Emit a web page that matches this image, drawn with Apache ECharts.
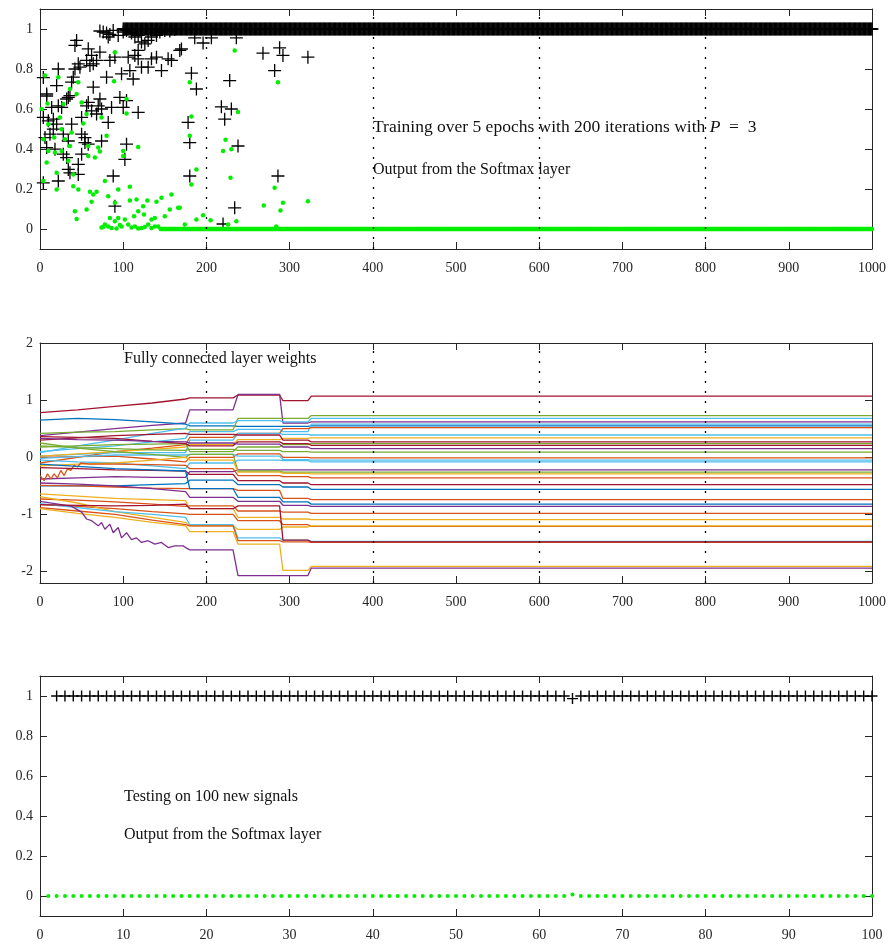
<!DOCTYPE html>
<html><head><meta charset="utf-8">
<script src="https://cdn.jsdelivr.net/npm/echarts@6/dist/echarts.min.js"></script>
<style>html,body{margin:0;padding:0;background:#fff}#c{width:889px;height:946px}</style>
</head><body><div id="c"></div>
<script>
// ---------- DATA ----------
// Panel 1: training, softmax outputs (iteration, value)
var trainBlackScatter = [[72,0.99],[76,0.985],[80,0.98],[84,0.973],[82,0.96],[88,0.993],[94,0.968],[100,0.985],[104,0.993],[110,0.98],[114,0.96],[118,0.968],[122,0.935],[126,0.926],[130,0.943],[134,0.96],[140,0.968],[144,0.985],[150,0.993],[156,0.99],[162,0.997],[168,0.893],[118,0.893],[44,0.943],[42,0.918],[58,0.901],[62,0.868],[72,0.884],[68,0.843],[64,0.826],[60,0.817],[46,0.826],[42,0.80],[22,0.80],[40,0.759],[48,0.809],[56,0.843],[84,0.843],[90,0.859],[80,0.759],[98,0.776],[108,0.792],[112,0.75],[106,0.859],[114,0.868],[118,0.851],[122,0.809],[130,0.809],[134,0.851],[140,0.859],[146,0.792],[154,0.851],[158,0.843],[20,0.717],[8,0.675],[38,0.734],[64,0.709],[34,0.658],[36,0.667],[32,0.65],[22,0.616],[14,0.608],[26,0.608],[58,0.633],[56,0.616],[70,0.616],[72,0.65],[62,0.591],[68,0.575],[74,0.60],[86,0.608],[96,0.658],[100,0.608],[104,0.642],[118,0.583],[82,0.533],[50,0.558],[38,0.524],[16,0.549],[10,0.541],[4,0.558],[6,0.457],[12,0.474],[20,0.524],[16,0.499],[28,0.474],[34,0.44],[50,0.474],[54,0.457],[54,0.432],[58,0.424],[74,0.44],[104,0.424],[8,0.407],[18,0.399],[28,0.374],[32,0.357],[50,0.374],[46,0.323],[102,0.348],[34,0.298],[36,0.281],[46,0.273],[88,0.265],[22,0.24],[4,0.231],[90,0.114],[4,0.757],[8,0.665],[182,0.779],[188,0.70],[178,0.533],[180,0.432],[180,0.265],[228,0.742],[218,0.611],[230,0.60],[222,0.549],[238,0.415],[234,0.106],[220,0.025],[268,0.879],[288,0.906],[292,0.868],[282,0.792],[322,0.859],[286,0.265],[170,0.90],[186,0.956],[196,0.93],[206,0.956],[236,0.956]];
var trainGreenScatter = [[6,0.767],[22,0.759],[46,0.734],[89,0.739],[90,0.884],[36,0.70],[44,0.675],[28,0.625],[50,0.633],[104,0.65],[104,0.578],[2,0.60],[9,0.628],[56,0.575],[52,0.528],[74,0.558],[10,0.524],[24,0.558],[26,0.499],[38,0.482],[4,0.449],[17,0.457],[30,0.449],[80,0.466],[70,0.407],[58,0.415],[36,0.415],[10,0.39],[18,0.382],[26,0.39],[66,0.357],[72,0.387],[118,0.41],[100,0.39],[100,0.365],[34,0.34],[8,0.332],[58,0.365],[20,0.281],[40,0.273],[78,0.24],[94,0.198],[108,0.211],[4,0.24],[20,0.198],[40,0.214],[46,0.198],[60,0.186],[68,0.186],[64,0.173],[82,0.164],[62,0.136],[90,0.131],[108,0.142],[116,0.147],[129,0.142],[140,0.136],[146,0.156],[158,0.173],[56,0.097],[42,0.089],[44,0.05],[74,0.008],[78,0.022],[84,0.055],[94,0.055],[102,0.047],[113,0.064],[125,0.072],[118,0.089],[124,0.114],[134,0.047],[138,0.055],[150,0.064],[156,0.097],[166,0.106],[90,0.039],[98,0.013],[106,0.022],[122,0.005],[130,0.022],[142,0.013],[82,0.013],[76,0.01],[86,0.005],[92,0.003],[96,0.02],[110,0.008],[114,0.012],[118,0.003],[126,0.01],[134,0.005],[138,0.012],[234,0.893],[180,0.734],[286,0.734],[182,0.563],[238,0.585],[180,0.466],[223,0.446],[220,0.39],[230,0.399],[188,0.298],[182,0.223],[229,0.256],[282,0.206],[292,0.131],[322,0.139],[269,0.117],[289,0.092],[168,0.106],[188,0.047],[196,0.069],[205,0.044],[236,0.039],[226,0.022],[174,0.022],[284,0.013]];
// converged outputs, one value per iteration from the start iteration onwards
var blackBandStart = 100;
var blackBand = [
1,1,1,1,1,1,1,1,1,1,1,1,1,1,1,1,1,1,1,1,1,1,1,1,1,1,1,1,1,1,1,1,1,1,1,1,1,1,1,1,1,1,1,1,1,1,1,1,1,1,
1,1,1,1,1,1,1,1,1,1,1,1,1,1,1,1,1,1,1,1,1,1,1,1,1,1,1,1,1,1,1,1,1,1,1,1,1,1,1,1,1,1,1,1,1,1,1,1,1,1,
1,1,1,1,1,1,1,1,1,1,1,1,1,1,1,1,1,1,1,1,1,1,1,1,1,1,1,1,1,1,1,1,1,1,1,1,1,1,1,1,1,1,1,1,1,1,1,1,1,1,
1,1,1,1,1,1,1,1,1,1,1,1,1,1,1,1,1,1,1,1,1,1,1,1,1,1,1,1,1,1,1,1,1,1,1,1,1,1,1,1,1,1,1,1,1,1,1,1,1,1,
1,1,1,1,1,1,1,1,1,1,1,1,1,1,1,1,1,1,1,1,1,1,1,1,1,1,1,1,1,1,1,1,1,1,1,1,1,1,1,1,1,1,1,1,1,1,1,1,1,1,
1,1,1,1,1,1,1,1,1,1,1,1,1,1,1,1,1,1,1,1,1,1,1,1,1,1,1,1,1,1,1,1,1,1,1,1,1,1,1,1,1,1,1,1,1,1,1,1,1,1,
1,1,1,1,1,1,1,1,1,1,1,1,1,1,1,1,1,1,1,1,1,1,1,1,1,1,1,1,1,1,1,1,1,1,1,1,1,1,1,1,1,1,1,1,1,1,1,1,1,1,
1,1,1,1,1,1,1,1,1,1,1,1,1,1,1,1,1,1,1,1,1,1,1,1,1,1,1,1,1,1,1,1,1,1,1,1,1,1,1,1,1,1,1,1,1,1,1,1,1,1,
1,1,1,1,1,1,1,1,1,1,1,1,1,1,1,1,1,1,1,1,1,1,1,1,1,1,1,1,1,1,1,1,1,1,1,1,1,1,1,1,1,1,1,1,1,1,1,1,1,1,
1,1,1,1,1,1,1,1,1,1,1,1,1,1,1,1,1,1,1,1,1,1,1,1,1,1,1,1,1,1,1,1,1,1,1,1,1,1,1,1,1,1,1,1,1,1,1,1,1,1,
1,1,1,1,1,1,1,1,1,1,1,1,1,1,1,1,1,1,1,1,1,1,1,1,1,1,1,1,1,1,1,1,1,1,1,1,1,1,1,1,1,1,1,1,1,1,1,1,1,1,
1,1,1,1,1,1,1,1,1,1,1,1,1,1,1,1,1,1,1,1,1,1,1,1,1,1,1,1,1,1,1,1,1,1,1,1,1,1,1,1,1,1,1,1,1,1,1,1,1,1,
1,1,1,1,1,1,1,1,1,1,1,1,1,1,1,1,1,1,1,1,1,1,1,1,1,1,1,1,1,1,1,1,1,1,1,1,1,1,1,1,1,1,1,1,1,1,1,1,1,1,
1,1,1,1,1,1,1,1,1,1,1,1,1,1,1,1,1,1,1,1,1,1,1,1,1,1,1,1,1,1,1,1,1,1,1,1,1,1,1,1,1,1,1,1,1,1,1,1,1,1,
1,1,1,1,1,1,1,1,1,1,1,1,1,1,1,1,1,1,1,1,1,1,1,1,1,1,1,1,1,1,1,1,1,1,1,1,1,1,1,1,1,1,1,1,1,1,1,1,1,1,
1,1,1,1,1,1,1,1,1,1,1,1,1,1,1,1,1,1,1,1,1,1,1,1,1,1,1,1,1,1,1,1,1,1,1,1,1,1,1,1,1,1,1,1,1,1,1,1,1,1,
1,1,1,1,1,1,1,1,1,1,1,1,1,1,1,1,1,1,1,1,1,1,1,1,1,1,1,1,1,1,1,1,1,1,1,1,1,1,1,1,1,1,1,1,1,1,1,1,1,1,
1,1,1,1,1,1,1,1,1,1,1,1,1,1,1,1,1,1,1,1,1,1,1,1,1,1,1,1,1,1,1,1,1,1,1,1,1,1,1,1,1,1,1,1,1,1,1,1,1,1,
1];
var greenBandStart = 145;
var greenBand = [
0,0,0,0,0,0,0,0,0,0,0,0,0,0,0,0,0,0,0,0,0,0,0,0,0,0,0,0,0,0,0,0,0,0,0,0,0,0,0,0,0,0,0,0,0,0,0,0,0,0,
0,0,0,0,0,0,0,0,0,0,0,0,0,0,0,0,0,0,0,0,0,0,0,0,0,0,0,0,0,0,0,0,0,0,0,0,0,0,0,0,0,0,0,0,0,0,0,0,0,0,
0,0,0,0,0,0,0,0,0,0,0,0,0,0,0,0,0,0,0,0,0,0,0,0,0,0,0,0,0,0,0,0,0,0,0,0,0,0,0,0,0,0,0,0,0,0,0,0,0,0,
0,0,0,0,0,0,0,0,0,0,0,0,0,0,0,0,0,0,0,0,0,0,0,0,0,0,0,0,0,0,0,0,0,0,0,0,0,0,0,0,0,0,0,0,0,0,0,0,0,0,
0,0,0,0,0,0,0,0,0,0,0,0,0,0,0,0,0,0,0,0,0,0,0,0,0,0,0,0,0,0,0,0,0,0,0,0,0,0,0,0,0,0,0,0,0,0,0,0,0,0,
0,0,0,0,0,0,0,0,0,0,0,0,0,0,0,0,0,0,0,0,0,0,0,0,0,0,0,0,0,0,0,0,0,0,0,0,0,0,0,0,0,0,0,0,0,0,0,0,0,0,
0,0,0,0,0,0,0,0,0,0,0,0,0,0,0,0,0,0,0,0,0,0,0,0,0,0,0,0,0,0,0,0,0,0,0,0,0,0,0,0,0,0,0,0,0,0,0,0,0,0,
0,0,0,0,0,0,0,0,0,0,0,0,0,0,0,0,0,0,0,0,0,0,0,0,0,0,0,0,0,0,0,0,0,0,0,0,0,0,0,0,0,0,0,0,0,0,0,0,0,0,
0,0,0,0,0,0,0,0,0,0,0,0,0,0,0,0,0,0,0,0,0,0,0,0,0,0,0,0,0,0,0,0,0,0,0,0,0,0,0,0,0,0,0,0,0,0,0,0,0,0,
0,0,0,0,0,0,0,0,0,0,0,0,0,0,0,0,0,0,0,0,0,0,0,0,0,0,0,0,0,0,0,0,0,0,0,0,0,0,0,0,0,0,0,0,0,0,0,0,0,0,
0,0,0,0,0,0,0,0,0,0,0,0,0,0,0,0,0,0,0,0,0,0,0,0,0,0,0,0,0,0,0,0,0,0,0,0,0,0,0,0,0,0,0,0,0,0,0,0,0,0,
0,0,0,0,0,0,0,0,0,0,0,0,0,0,0,0,0,0,0,0,0,0,0,0,0,0,0,0,0,0,0,0,0,0,0,0,0,0,0,0,0,0,0,0,0,0,0,0,0,0,
0,0,0,0,0,0,0,0,0,0,0,0,0,0,0,0,0,0,0,0,0,0,0,0,0,0,0,0,0,0,0,0,0,0,0,0,0,0,0,0,0,0,0,0,0,0,0,0,0,0,
0,0,0,0,0,0,0,0,0,0,0,0,0,0,0,0,0,0,0,0,0,0,0,0,0,0,0,0,0,0,0,0,0,0,0,0,0,0,0,0,0,0,0,0,0,0,0,0,0,0,
0,0,0,0,0,0,0,0,0,0,0,0,0,0,0,0,0,0,0,0,0,0,0,0,0,0,0,0,0,0,0,0,0,0,0,0,0,0,0,0,0,0,0,0,0,0,0,0,0,0,
0,0,0,0,0,0,0,0,0,0,0,0,0,0,0,0,0,0,0,0,0,0,0,0,0,0,0,0,0,0,0,0,0,0,0,0,0,0,0,0,0,0,0,0,0,0,0,0,0,0,
0,0,0,0,0,0,0,0,0,0,0,0,0,0,0,0,0,0,0,0,0,0,0,0,0,0,0,0,0,0,0,0,0,0,0,0,0,0,0,0,0,0,0,0,0,0,0,0,0,0,
0,0,0,0,0,0];
var epochBoundaries = [200, 400, 600, 800];

// Panel 2: fully connected layer weights, values at these iterations
var weightIters = [0, 45, 90, 135, 175, 180, 232, 238, 288, 292, 322, 326, 1000];
var weightLines = [
 [0.78,0.83,0.89,0.95,1.02,1.04,1.04,1.09,1.09,0.99,0.99,1.07,1.07],
 [0.38,0.44,0.50,0.56,0.60,0.83,0.83,1.10,1.10,0.60,0.60,0.62,0.62],
 [0.65,0.68,0.66,0.62,0.58,0.55,0.55,0.54,0.54,0.54,0.54,0.55,0.55],
 [0.42,0.44,0.45,0.48,0.50,0.48,0.48,0.68,0.68,0.68,0.68,0.73,0.73],
 [0.08,0.20,0.30,0.42,0.51,0.60,0.60,0.64,0.64,0.62,0.62,0.68,0.68],
 [0.10,0.15,0.20,0.27,0.33,0.45,0.45,0.49,0.49,0.45,0.45,0.58,0.58],
 [-0.10,0.00,0.10,0.16,0.22,0.35,0.35,0.42,0.42,0.50,0.50,0.52,0.52],
 [0.02,0.05,0.08,0.08,0.08,0.30,0.30,0.42,0.42,0.40,0.40,0.39,0.39],
 [0.02,0.06,0.10,0.14,0.18,0.22,0.22,0.31,0.31,0.33,0.33,0.34,0.34],
 [0.30,0.34,0.38,0.40,0.42,0.40,0.40,0.39,0.39,0.30,0.30,0.27,0.27],
 [0.18,0.20,0.22,0.23,0.24,0.10,0.10,0.18,0.18,0.22,0.22,0.24,0.24],
 [0.36,0.35,0.33,0.28,0.24,0.20,0.20,0.27,0.27,0.24,0.24,0.21,0.21],
 [0.33,0.31,0.30,0.28,0.27,0.25,0.25,0.23,0.23,0.18,0.18,0.15,0.15],
 [0.20,0.17,0.15,0.13,0.12,0.14,0.14,0.12,0.12,0.10,0.10,0.09,0.09],
 [0.00,0.01,0.02,-0.03,-0.08,0.00,0.00,0.06,0.06,0.00,0.00,-0.01,-0.01],
 [-0.02,0.01,0.04,0.04,0.04,0.05,0.05,0.02,0.02,-0.04,-0.04,-0.05,-0.05],
 [-0.05,-0.08,-0.10,-0.15,-0.20,-0.10,-0.10,-0.05,-0.05,-0.06,-0.06,-0.08,-0.08],
 [-0.38,-0.36,-0.34,-0.35,-0.35,-0.25,-0.25,-0.22,-0.22,-0.22,-0.22,-0.22,-0.22],
 [0.25,0.16,0.10,0.05,0.00,0.05,0.05,-0.24,-0.24,-0.26,-0.26,-0.26,-0.26],
 [-0.15,-0.12,-0.10,-0.05,0.00,-0.05,-0.05,-0.26,-0.26,-0.28,-0.28,-0.29,-0.29],
 [-0.32,-0.17,-0.12,-0.13,-0.14,-0.20,-0.20,-0.32,-0.32,-0.34,-0.34,-0.36,-0.36],
 [-0.18,-0.20,-0.22,-0.23,-0.24,-0.30,-0.30,-0.41,-0.41,-0.45,-0.45,-0.48,-0.48],
 [-0.50,-0.50,-0.50,-0.48,-0.46,-0.40,-0.40,-0.48,-0.48,-0.52,-0.52,-0.56,-0.56],
 [-0.49,-0.50,-0.52,-0.54,-0.55,-0.55,-0.55,-0.58,-0.58,-0.72,-0.72,-0.74,-0.74],
 [-0.12,-0.16,-0.20,-0.22,-0.24,-0.55,-0.55,-0.70,-0.70,-0.78,-0.78,-0.82,-0.82],
 [-0.45,-0.47,-0.50,-0.55,-0.60,-0.70,-0.70,-0.77,-0.77,-0.84,-0.84,-0.86,-0.86],
 [-0.73,-0.75,-0.78,-0.82,-0.86,-0.85,-0.85,-0.94,-0.94,-0.96,-0.96,-0.98,-0.98],
 [-0.64,-0.68,-0.72,-0.74,-0.76,-0.90,-0.90,-1.05,-1.05,-1.08,-1.08,-1.09,-1.09],
 [-0.83,-0.86,-0.90,-0.95,-0.99,-1.00,-1.00,-1.11,-1.11,-1.18,-1.18,-1.21,-1.21],
 [-0.69,-0.80,-0.95,-1.05,-1.14,-1.20,-1.20,-1.26,-1.26,-1.22,-1.22,-1.20,-1.20],
 [-0.81,-0.88,-0.95,-1.00,-1.05,-1.18,-1.18,-1.41,-1.41,-1.45,-1.45,-1.47,-1.47],
 [-0.88,-0.94,-1.00,-1.10,-1.18,-1.20,-1.20,-1.46,-1.46,-1.48,-1.48,-1.49,-1.49],
 [-0.90,-0.98,-1.05,-1.14,-1.20,-1.30,-1.30,-1.52,-1.52,-1.98,-1.98,-1.91,-1.91],
 [-0.78,-1.17,-1.23,-1.41,-1.58,-1.62,-1.62,-2.07,-2.07,-2.07,-2.07,-1.94,-1.94],
 [-0.83,-0.84,-0.85,-0.84,-0.82,-0.90,-0.90,-0.85,-0.85,-1.45,-1.45,-1.48,-1.48]
];
// extra readings for the two noisiest weights before iteration 175 (line 21 orange, line 34 purple)
var noisyOrangeEarly = [[0,-0.32],[5,-0.41],[9,-0.29],[13,-0.38],[17,-0.29],[21,-0.36],[25,-0.23],[29,-0.32],[33,-0.20],[37,-0.23],[41,-0.14],[45,-0.17],[49,-0.10],[60,-0.12],[90,-0.12],[135,-0.13]];
var noisyPurpleEarly = [[0,-0.77],[22,-0.82],[38,-0.86],[50,-0.96],[56,-1.08],[62,-1.11],[70,-1.20],[74,-1.14],[78,-1.26],[84,-1.17],[88,-1.32],[94,-1.23],[98,-1.41],[104,-1.32],[110,-1.44],[116,-1.41],[122,-1.49],[130,-1.46],[138,-1.52],[146,-1.49],[154,-1.58],[162,-1.55],[172,-1.55]];

// Panel 3: testing on 100 new signals
var testIndex = [1,2,3,4,5,6,7,8,9,10,11,12,13,14,15,16,17,18,19,20,21,22,23,24,25,26,27,28,29,30,31,32,33,34,35,36,37,38,39,40,41,42,43,44,45,46,47,48,49,50,51,52,53,54,55,56,57,58,59,60,61,62,63,64,65,66,67,68,69,70,71,72,73,74,75,76,77,78,79,80,81,82,83,84,85,86,87,88,89,90,91,92,93,94,95,96,97,98,99,100];
var testBlack = [null,1,1,1,1,1,1,1,1,1,1,1,1,1,1,1,1,1,1,1,1,1,1,1,1,1,1,1,1,1,1,1,1,1,1,1,1,1,1,1,1,1,1,1,1,1,1,1,1,1,1,1,1,1,1,1,1,1,1,1,1,1,1,0.987,1,1,1,1,1,1,1,1,1,1,1,1,1,1,1,1,1,1,1,1,1,1,1,1,1,1,1,1,1,1,1,1,1,1,1,1];
var testGreen = [0,0,0,0,0,0,0,0,0,0,0,0,0,0,0,0,0,0,0,0,0,0,0,0,0,0,0,0,0,0,0,0,0,0,0,0,0,0,0,0,0,0,0,0,0,0,0,0,0,0,0,0,0,0,0,0,0,0,0,0,0,0,0,0.008,0,0,0,0,0,0,0,0,0,0,0,0,0,0,0,0,0,0,0,0,0,0,0,0,0,0,0,0,0,0,0,0,0,0,0,0];

var xTicks1 = [0, 1000, 100];
var xTicks3 = [0, 100, 10];
var yTicksProb = [0, 0.2, 0.4, 0.6, 0.8, 1];
var yTicksWeight = [-2, -1, 0, 1, 2];

// ---------- STYLE ----------
var palette = ['#0072BD','#D95319','#EDB120','#7E2F8E','#77AC30','#4DBEEE','#A2142F'];
var lineColorIdx = [6,3,0,4,5,5,1,5,2,6,4,6,3,4,1,5,5,3,4,2,1,6,0,1,0,3,1,2,1,2,5,1,2,3,6];
var AX = '#262626';
var FONT = 'Liberation Serif';
var plusSym = 'path://M5,0L5,10M0,5L10,5';

var grids = [
  {left: 40, top: 9, width: 832, height: 240},
  {left: 40, top: 343, width: 832, height: 240},
  {left: 40, top: 676, width: 832, height: 240}
];

function xAx(g, pos, t) {
  return {
    type: 'value', gridIndex: g, position: pos, min: t[0], max: t[1], interval: t[2],
    axisLine: {show: true, onZero: false, lineStyle: {color: AX, width: 1}},
    axisTick: {show: true, inside: true, length: 7, lineStyle: {color: AX}},
    axisLabel: {show: pos === 'bottom', margin: 12, color: AX, fontFamily: FONT, fontSize: 14,
      formatter: function (v) { return String(v); }},
    splitLine: {show: false}
  };
}
function yAx(g, pos, mn, mx, ticks) {
  return {
    type: 'value', gridIndex: g, position: pos, min: mn, max: mx,
    axisLine: {show: true, onZero: false, lineStyle: {color: AX, width: 1}},
    axisTick: {show: true, inside: true, length: 7, lineStyle: {color: AX}, customValues: ticks},
    axisLabel: {show: pos === 'left', margin: 7, color: AX, fontFamily: FONT, fontSize: 14, customValues: ticks},
    splitLine: {show: false}
  };
}

var epochMark = {
  silent: true, symbol: ['none','none'], label: {show: false},
  lineStyle: {color: '#000', type: [2, 8], width: 1.3},
  data: epochBoundaries.map(function (v) { return {xAxis: v}; })
};

function weightPoints(k) {
  var pts = weightIters.map(function (x, j) { return [x, weightLines[k][j]]; });
  var early = k === 20 ? noisyOrangeEarly : (k === 33 ? noisyPurpleEarly : null);
  if (early) pts = early.concat(pts.filter(function (p) { return p[0] >= 175; }));
  return pts;
}

var series = [];
// panel 1
series.push({type: 'scatter', xAxisIndex: 0, yAxisIndex: 0, symbol: plusSym, symbolSize: 13,
  itemStyle: {color: 'rgba(0,0,0,0)', borderColor: '#000', borderWidth: 1.3, opacity: 1},
  data: blackBand.map(function (v, i) { return [blackBandStart + i, v]; }).concat(trainBlackScatter),
  markLine: epochMark});
series.push({type: 'scatter', xAxisIndex: 0, yAxisIndex: 0, symbol: 'circle', symbolSize: 4.5,
  itemStyle: {color: '#00ee00', opacity: 1},
  data: greenBand.map(function (v, i) { return [greenBandStart + i, v]; }).concat(trainGreenScatter)});
// panel 2
weightLines.forEach(function (vals, k) {
  var s = {type: 'line', xAxisIndex: 2, yAxisIndex: 2, showSymbol: false, symbol: 'none',
    lineStyle: {width: 1.3, color: palette[lineColorIdx[k]]}, itemStyle: {color: palette[lineColorIdx[k]]},
    data: weightPoints(k)};
  if (k === weightLines.length - 1) s.markLine = epochMark;
  series.push(s);
});
// panel 3
series.push({type: 'scatter', xAxisIndex: 4, yAxisIndex: 4, symbol: plusSym, symbolSize: 11,
  itemStyle: {color: 'rgba(0,0,0,0)', borderColor: '#000', borderWidth: 1.4, opacity: 1},
  data: testIndex.map(function (x, i) { return [x, testBlack[i]]; })});
series.push({type: 'scatter', xAxisIndex: 4, yAxisIndex: 4, symbol: 'circle', symbolSize: 4,
  itemStyle: {color: '#00ee00', opacity: 1},
  data: testIndex.map(function (x, i) { return [x, testGreen[i]]; })});

function ttl(txt, l, t, size, rich) {
  var st = {fontFamily: FONT, fontSize: size, fontWeight: 'normal', color: '#111'};
  if (rich) st.rich = rich;
  return {text: txt, left: l, top: t, padding: 0, textStyle: st};
}

var chart = echarts.init(document.getElementById('c'), null, {renderer: 'canvas'});
chart.setOption({
  animation: false,
  backgroundColor: '#fff',
  grid: grids,
  title: [
    ttl('Training over 5 epochs with 200 iterations with {i|P}  =  3', 373, 118, 17.5,
        {i: {fontFamily: FONT, fontSize: 17.5, fontStyle: 'italic', color: '#111'}}),
    ttl('Output from the Softmax layer', 373, 162, 16),
    ttl('Fully connected layer weights', 124, 351, 16),
    ttl('Testing on 100 new signals', 124, 789, 16),
    ttl('Output from the Softmax layer', 124, 827, 16)
  ],
  xAxis: [xAx(0,'bottom',xTicks1), xAx(0,'top',xTicks1), xAx(1,'bottom',xTicks1), xAx(1,'top',xTicks1), xAx(2,'bottom',xTicks3), xAx(2,'top',xTicks3)],
  yAxis: [yAx(0,'left',-0.1,1.1,yTicksProb), yAx(0,'right',-0.1,1.1,yTicksProb), yAx(1,'left',-2.2,2,yTicksWeight), yAx(1,'right',-2.2,2,yTicksWeight), yAx(2,'left',-0.1,1.1,yTicksProb), yAx(2,'right',-0.1,1.1,yTicksProb)],
  series: series
});
</script></body></html>
